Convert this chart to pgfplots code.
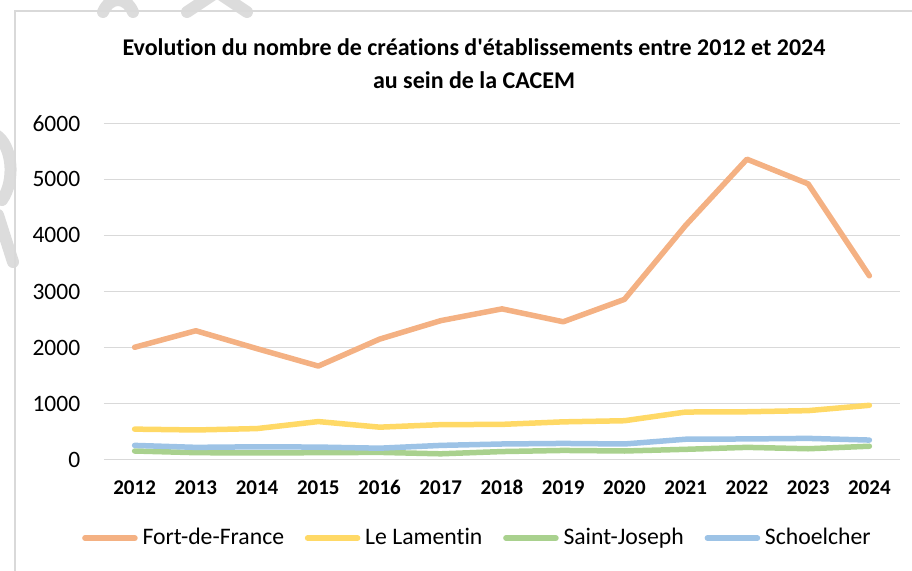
\documentclass[border=0pt]{standalone}
\usepackage{fontspec}
\setmainfont{Carlito}[Ligatures={NoCommon}]
\usepackage{pgfplots}
\pgfplotsset{compat=1.18}
\definecolor{cFdF}{HTML}{F4B183}
\definecolor{cLam}{HTML}{FFD966}
\definecolor{cSJ}{HTML}{A9D18E}
\definecolor{cSch}{HTML}{9DC3E6}
\definecolor{gridc}{HTML}{D9D9D9}
\definecolor{wm}{HTML}{DCDCDC}
\begin{document}
\begin{tikzpicture}
\useasboundingbox (0,0) rectangle (456pt,285.5pt);
\clip (0,0) rectangle (456pt,285.5pt);
\begin{scope}[yshift=285.5pt, x=0.5pt, y=-0.5pt]
  % faint watermark strokes
  \draw[wm, line width=6pt, line cap=round] (103,12) .. controls (110,-4) and (126,-4) .. (133,12);
  \draw[wm, line width=6pt, line cap=round] (187,12) -- (217,-8) -- (247,12);
  \draw[wm, line width=6pt, line cap=round] (-4,135) .. controls (12,145) and (16,180) .. (2,200);
  \draw[wm, line width=6pt, line cap=round] (-2,215) -- (13,262);
  % chart border
  \draw[gridc, line width=0.75pt] (15,600) -- (15,11) -- (960,11);
\end{scope}
\begin{axis}[
  at={(52pt,55.65pt)}, anchor=south west,
  scale only axis, width=398pt, height=168.2pt,
  xmin=2011.5, xmax=2024.5, ymin=0, ymax=6000,
  xtick={2012,2013,...,2024}, ytick={0,1000,...,6000},
  ymajorgrids, major grid style={gridc, line width=0.75pt},
  axis line style={draw=none}, major tick length=0pt, tick style={draw=none},
  /pgf/number format/assume math mode=true,
  /pgf/number format/set thousands separator={},
  xticklabel style={font=\bfseries\fontsize{10.5}{12}\selectfont, inner sep=0pt, anchor=base, yshift=-17.4pt},
  yticklabel style={font=\fontsize{11.75}{14}\selectfont, inner sep=0pt, anchor=east, xshift=-11.7pt},
  clip=false,
  legend columns=4,
  legend style={at={(0.4548,-0.233)}, anchor=center, draw=none, fill=none,
    font=\fontsize{11.85}{14}\selectfont, nodes={inner sep=0pt},
    column sep=0pt,
    /tikz/every even column/.append style={column sep=0pt},
    /tikz/every odd column/.append style={column sep=0pt}},
  legend image code/.code={%
    \path (-9pt,0pt) (28.8pt,0pt);
    \draw[#1, line width=2.75pt, line cap=round] (1.375pt,0pt) -- (26.4pt,0pt);},
  every axis plot/.append style={line width=2.75pt, line join=round, line cap=round, mark=none},
]
\addplot[cFdF] coordinates {(2012,2005) (2013,2300) (2014,1980) (2015,1670) (2016,2150) (2017,2480) (2018,2690) (2019,2460) (2020,2860) (2021,4180) (2022,5360) (2023,4920) (2024,3280)};
\addlegendentry{Fort-de-France}
\addplot[cLam] coordinates {(2012,545) (2013,530) (2014,555) (2015,680) (2016,580) (2017,625) (2018,630) (2019,675) (2020,695) (2021,850) (2022,855) (2023,875) (2024,970)};
\addlegendentry{Le Lamentin}
\addplot[cSJ] coordinates {(2012,155) (2013,125) (2014,120) (2015,125) (2016,130) (2017,105) (2018,145) (2019,165) (2020,155) (2021,185) (2022,220) (2023,195) (2024,240)};
\addlegendentry{Saint-Joseph}
\addplot[cSch] coordinates {(2012,255) (2013,220) (2014,230) (2015,225) (2016,205) (2017,255) (2018,280) (2019,290) (2020,280) (2021,365) (2022,370) (2023,380) (2024,350)};
\addlegendentry{Schoelcher}
\end{axis}
\node[align=center, font=\bfseries\fontsize{12}{16.5}\selectfont] at (237pt,253.75pt) {Evolution du nombre de créations d\textquotesingle établissements entre 2012 et 2024\\au sein de la CACEM};
\end{tikzpicture}
\end{document}
